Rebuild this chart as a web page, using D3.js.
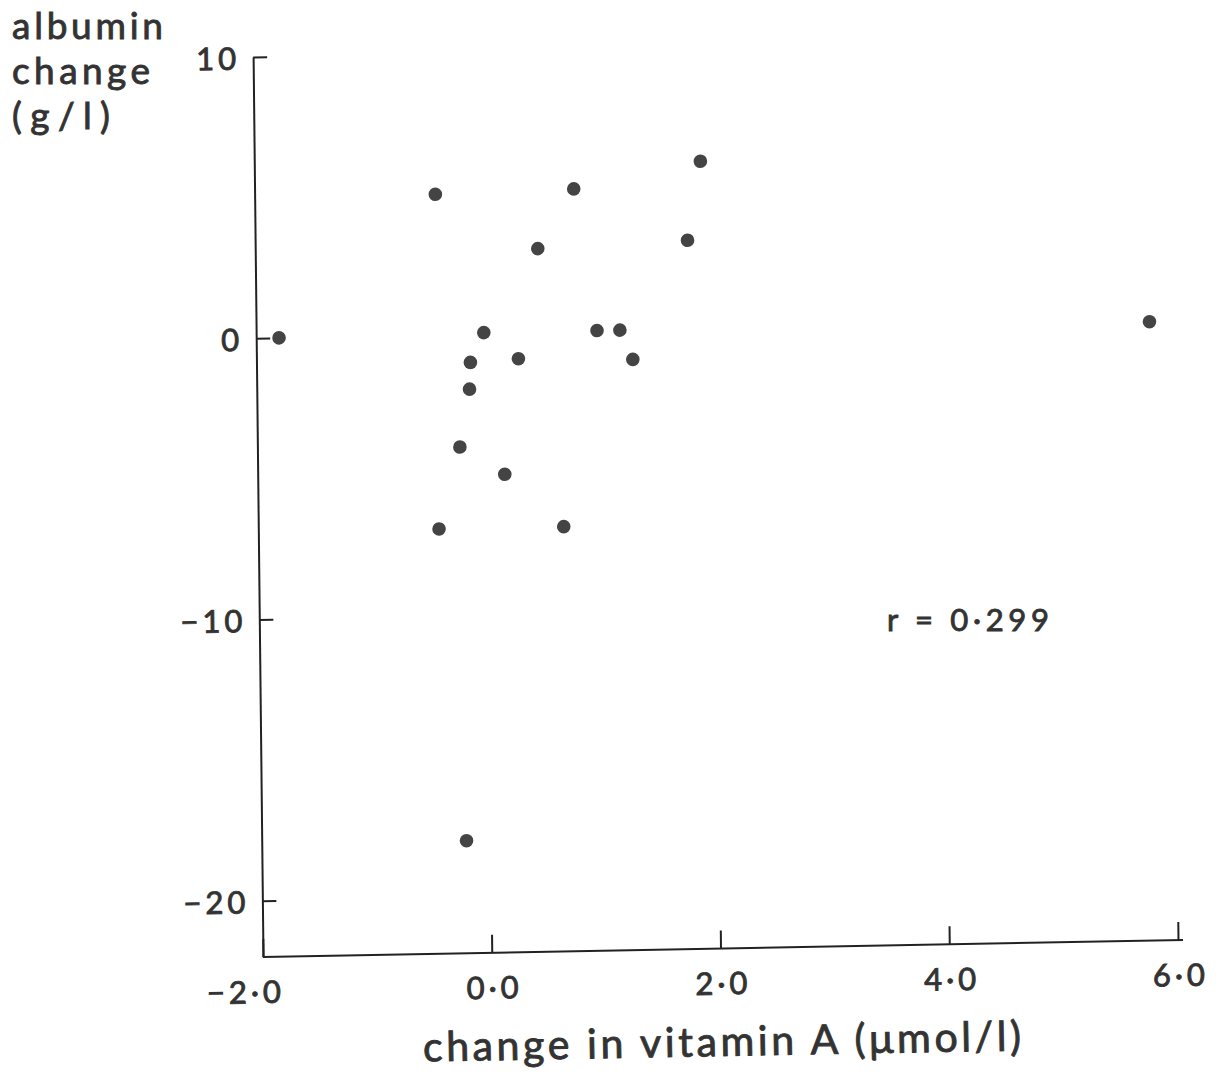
<!DOCTYPE html>
<html>
<head>
<meta charset="utf-8">
<script src="https://cdn.jsdelivr.net/npm/d3@7"></script>
<style>
  html, body { margin: 0; padding: 0; background: #ffffff; }
  svg { display: block; }
  text { font-family: "Lato", "Open Sans", sans-serif; fill: #333; stroke: #333; stroke-width: 0.9px; }
</style>
</head>
<body>
<script>
// ---- data ----
const vitaminAChange = [-1.80, -0.42, 0.79, 1.90, 1.78, 0.47, 5.81, -0.01, 0.98, 1.18, -0.13, 0.29, 1.29, -0.14, -0.23, 0.16, -0.42, 0.67, -0.21];
const albuminChange  = [0.0, 5.0, 5.1, 6.0, 3.2, 3.0, 0.0, 0.05, 0.05, 0.05, -1.0, -0.9, -1.0, -1.95, -4.0, -5.0, -6.9, -6.9, -18.0];
const xTicks = [-2, 0, 2, 4, 6];
const xTickLabels = ["\u22122\u00B70", "0\u00B70", "2\u00B70", "4\u00B70", "6\u00B70"];
const yTicks = [10, 0, -10, -20];
const yTickLabels = ["10", "0", "\u221210", "\u221220"];
const yTitleLines = ["albumin", "change", "(g/l)"];
const xTitle = "change in vitamin A (\u03BCmol/l)";
const rLabel = "r = 0\u00B7299";

const W = 1228, H = 1073;
const svg = d3.select("body").append("svg").attr("width", W).attr("height", H);
svg.append("rect").attr("width", W).attr("height", H).attr("fill", "#fff");

// scanned figure is slightly skewed; plot frame origin at axis corner
const g = svg.append("g").attr("transform", "matrix(1,-0.0185,0.011,1,263,957)");

const x = d3.scaleLinear().domain([-2, 6]).range([0, 915]);
const y = d3.scaleLinear().domain([-22, 10]).range([0, -900]);

const xAxis = d3.axisBottom(x).tickValues(xTicks)
  .tickFormat((d, i) => xTickLabels[i]).tickSizeInner(-18).tickSizeOuter(0).tickPadding(24);
const yAxis = d3.axisLeft(y).tickValues(yTicks)
  .tickFormat((d, i) => yTickLabels[i]).tickSizeInner(-14).tickSizeOuter(0).tickPadding(17);

const gx = g.append("g").call(xAxis);
const gy = g.append("g").call(yAxis);

[gx, gy].forEach(a => {
  a.select(".domain").attr("stroke", "#222").attr("stroke-width", 2);
  a.selectAll(".tick line").attr("stroke", "#222").attr("stroke-width", 2);
  a.selectAll(".tick text")
    .style("font-family", '"Lato", sans-serif')
    .attr("font-size", 31).attr("fill", "#333").attr("letter-spacing", 4);
});
gx.select(".domain").attr("d", `M${x(-2)},0H${x(6) + 5}`);
gx.selectAll(".tick text").attr("dx", (d, i) => i === 0 ? -18 : 2);
gy.selectAll(".tick text").attr("dy", "0.38em").attr("dx", 4);

// points
g.append("g").selectAll("circle")
  .data(vitaminAChange.map((v, i) => [v, albuminChange[i]]))
  .join("circle")
  .attr("cx", d => x(d[0]))
  .attr("cy", d => y(d[1]))
  .attr("r", 6.8)
  .attr("fill", "#444");

// y title (stacked)
const yWidths = [151, 138, 98];
yTitleLines.forEach((t, i) => {
  svg.append("text").attr("x", 12).attr("y", 39 + i * 45)
    .attr("font-size", 37).attr("fill", "#333")
    .attr("stroke-width", 1.1)
    .attr("textLength", yWidths[i]).attr("lengthAdjust", "spacing")
    .text(t);
});

// x title
svg.append("text")
  .attr("x", 423).attr("y", 1056)
  .attr("font-size", 41).attr("fill", "#333")
  .attr("textLength", 598).attr("lengthAdjust", "spacing")
  .attr("transform", "rotate(-1.06, 722, 1046)")
  .text(xTitle);

// r label
svg.append("text")
  .attr("x", 887).attr("y", 631)
  .attr("font-size", 31).attr("fill", "#333")
  .attr("textLength", 162).attr("lengthAdjust", "spacing")
  .text(rLabel);
</script>
</body>
</html>
